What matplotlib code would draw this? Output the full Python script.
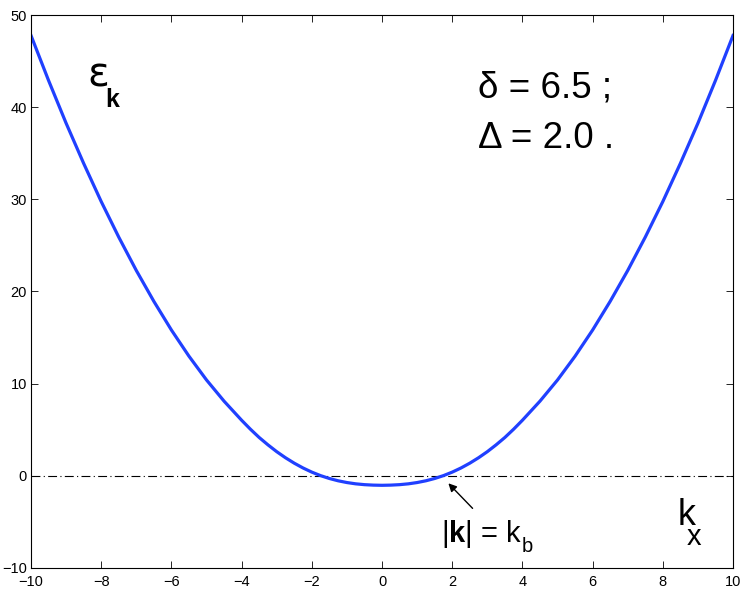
import matplotlib
matplotlib.use("Agg")
import matplotlib.pyplot as plt

# dispersion (finer steps near the minimum)
k_x = [-10.0, -9.5, -9.0, -8.5, -8.0, -7.5, -7.0, -6.5, -6.0, -5.5, -5.0, -4.5,
       -4.0, -3.75, -3.5, -3.25, -3.0, -2.75, -2.5, -2.25, -2.0, -1.75, -1.5, -1.25,
       -1.0, -0.75, -0.5, -0.25, 0.0, 0.25, 0.5, 0.75, 1.0, 1.25, 1.5, 1.75,
       2.0, 2.25, 2.5, 2.75, 3.0, 3.25, 3.5, 3.75, 4.0,
       4.5, 5.0, 5.5, 6.0, 6.5, 7.0, 7.5, 8.0, 8.5, 9.0, 9.5, 10.0]
eps_k = [47.78, 42.90, 38.26, 33.90, 29.76, 25.90, 22.28, 18.93, 15.82, 12.98, 10.40, 8.10,
         6.03, 5.06, 4.16, 3.36, 2.62, 1.96, 1.37, 0.85, 0.40, 0.02, -0.29, -0.54,
         -0.73, -0.87, -0.96, -1.01, -1.03, -1.01, -0.96, -0.87, -0.73, -0.54, -0.29, 0.02,
         0.40, 0.85, 1.37, 1.96, 2.62, 3.36, 4.16, 5.06, 6.03,
         8.10, 10.40, 12.98, 15.82, 18.93, 22.28, 25.90, 29.76, 33.90, 38.26, 42.90, 47.78]

x_ticks = [-10, -8, -6, -4, -2, 0, 2, 4, 6, 8, 10]
y_ticks = [-10, 0, 10, 20, 30, 40, 50]

plt.rcParams["font.family"] = ["Liberation Sans", "DejaVu Sans"]
plt.rcParams["axes.unicode_minus"] = True
plt.rcParams["mathtext.fontset"] = "custom"
plt.rcParams["mathtext.rm"] = "Liberation Sans"
plt.rcParams["mathtext.bf"] = "Liberation Sans:bold"

fig = plt.figure(figsize=(7.47, 5.93), dpi=100)
ax = fig.add_axes([0.0415, 0.0422, 0.9398, 0.9325])

ax.axhline(0, color="black", linewidth=0.8, linestyle=(0, (8, 3, 1, 3)))
ax.plot(k_x, eps_k, color="#2040ff", linewidth=2.3, solid_joinstyle="round")

ax.set_xlim(-10, 10)
ax.set_ylim(-10, 50)
ax.set_xticks(x_ticks)
ax.set_yticks(y_ticks)
ax.tick_params(direction="in", top=True, right=True, length=5, width=0.6,
               labelsize=10.5)
ax.tick_params(axis="x", pad=5)
ax.tick_params(axis="y", pad=3)
for s in ax.spines.values():
    s.set_linewidth(0.8)

# labels
ax.text(-8.40, 42.2, "ε", fontsize=29, family=["DejaVu Sans"])
ax.text(-7.88, 40.0, "k", fontsize=18, fontweight="bold")

ax.text(2.73, 41.0, "δ = 6.5 ;", fontsize=26.5)
ax.text(2.73, 35.6, "Δ = 2.0 .", fontsize=26.5)

ax.text(8.43, -5.34, "k", fontsize=26)
ax.text(8.69, -7.5, "x", fontsize=21)

ax.text(1.68, -7.15, r"$|\mathbf{k}|$ = k", fontsize=21)
ax.text(3.99, -8.23, "b", fontsize=14.5)

ax.annotate("", xy=(1.89, -0.81), xytext=(2.58, -3.53),
            arrowprops=dict(arrowstyle="-|>", color="black", lw=1.0,
                            mutation_scale=12, shrinkA=0, shrinkB=0))

fig.savefig("out.png", dpi=100)
